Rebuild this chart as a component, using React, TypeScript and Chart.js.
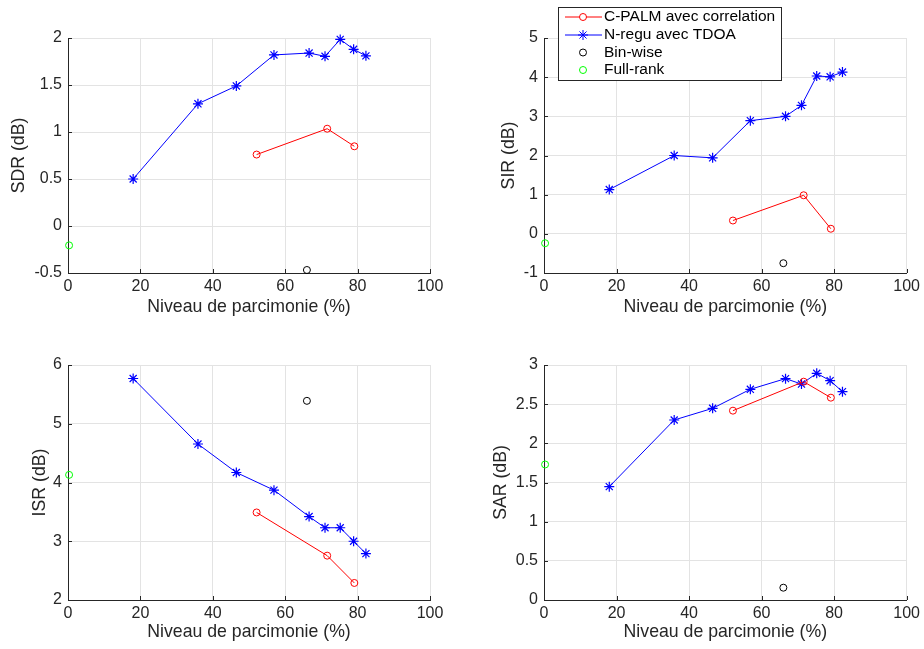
import React, { useEffect, useRef } from 'react';
import { Chart, registerables } from 'chart.js';

Chart.register(...registerables);
Chart.defaults.font.family = '"Liberation Sans", Arial, Helvetica, sans-serif';
Chart.defaults.color = '#262626';

// ---- data ----
const xTickStep = 20;
const cpalmX = [52.1, 71.6, 79.1];
const nreguX = [18.0, 35.9, 46.5, 56.9, 66.6, 71.0, 75.2, 78.9, 82.3];
const binX = [66.0];
const fullX = [0.3];

const sdrCpalm = [0.76, 1.035, 0.848];
const sdrNregu = [0.5, 1.3, 1.49, 1.82, 1.84, 1.805, 1.985, 1.88, 1.81];
const sdrBin = [-0.468];
const sdrFull = [-0.206];

const sirCpalm = [0.34, 0.985, 0.13];
const sirNregu = [1.13, 2.0, 1.94, 2.89, 3.0, 3.28, 4.03, 4.01, 4.13];
const sirBin = [-0.75];
const sirFull = [-0.24];

const isrCpalm = [3.49, 2.755, 2.29];
const isrNregu = [5.77, 4.655, 4.17, 3.87, 3.42, 3.23, 3.23, 3.0, 2.79];
const isrBin = [5.39];
const isrFull = [4.13];

const sarCpalm = [2.417, 2.787, 2.583];
const sarNregu = [1.447, 2.298, 2.447, 2.69, 2.826, 2.757, 2.894, 2.8, 2.66];
const sarBin = [0.157];
const sarFull = [1.73];

const legendLabels = ['C-PALM avec correlation', 'N-regu avec TDOA', 'Bin-wise', 'Full-rank'];
const xTitle = 'Niveau de parcimonie (%)';

const RED = '#ff0000';
const BLUE = '#0000ff';
const BLACK = '#000000';
const GREEN = '#00ff00';
const AXIS = '#262626';
const GRID = '#e3e3e3';
const TICK_SIZE = 16;
const TITLE_SIZE = 17.7;

type PanelCfg = {
  label: string;
  yMin: number; yMax: number; yStep: number;
  cpalm: number[]; nregu: number[]; bin: number[]; full: number[];
  left: number; top: number; w: number; h: number;
  pad: { left: number; top: number; right: number; bottom: number };
  yWidth: number; xHeight: number; yTitlePad: number; xTitlePad: number;
  legend: boolean;
};

const panels: PanelCfg[] = [
  {
    label: 'SDR (dB)', yMin: -0.5, yMax: 2, yStep: 0.5,
    cpalm: sdrCpalm, nregu: sdrNregu, bin: sdrBin, full: sdrFull,
    left: 0, top: 0, w: 462, h: 324,
    pad: { left: 0, top: 38, right: 32, bottom: 0 },
    yWidth: 68, xHeight: 51, yTitlePad: 8.5, xTitlePad: 6.5, legend: false,
  },
  {
    label: 'SIR (dB)', yMin: -1, yMax: 5, yStep: 1,
    cpalm: sirCpalm, nregu: sirNregu, bin: sirBin, full: sirFull,
    left: 462, top: 0, w: 462, h: 324,
    pad: { left: 0, top: 38, right: 17, bottom: 0 },
    yWidth: 82, xHeight: 51, yTitlePad: 36.5, xTitlePad: 6.5, legend: true,
  },
  {
    label: 'ISR (dB)', yMin: 2, yMax: 6, yStep: 1,
    cpalm: isrCpalm, nregu: isrNregu, bin: isrBin, full: isrFull,
    left: 0, top: 324, w: 462, h: 325,
    pad: { left: 0, top: 41, right: 32, bottom: 0 },
    yWidth: 68, xHeight: 49, yTitlePad: 29.5, xTitlePad: 6, legend: false,
  },
  {
    label: 'SAR (dB)', yMin: 0, yMax: 3, yStep: 0.5,
    cpalm: sarCpalm, nregu: sarNregu, bin: sarBin, full: sarFull,
    left: 462, top: 324, w: 462, h: 325,
    pad: { left: 0, top: 41, right: 17, bottom: 0 },
    yWidth: 82, xHeight: 49, yTitlePad: 28.5, xTitlePad: 6, legend: false,
  },
];

const fmtTick = (v: any) => String(Number(Number(v).toFixed(3)));

const inwardTicks = {
  id: 'inwardTicks',
  beforeDatasetsDraw(chart: any) {
    const { ctx, chartArea: a, scales } = chart;
    const x = scales.x, y = scales.y;
    ctx.save();
    ctx.strokeStyle = AXIS;
    ctx.lineWidth = 1;
    ctx.beginPath();
    x.ticks.forEach((t: any) => {
      const px = Math.round(x.getPixelForValue(t.value)) + 0.5;
      ctx.moveTo(px, a.bottom);
      ctx.lineTo(px, a.bottom - 4);
    });
    y.ticks.forEach((t: any) => {
      const py = Math.round(y.getPixelForValue(t.value)) + 0.5;
      ctx.moveTo(a.left, py);
      ctx.lineTo(a.left + 4, py);
    });
    ctx.stroke();
    ctx.restore();
  },
};

function drawStar(ctx: CanvasRenderingContext2D, cx: number, cy: number, r: number) {
  ctx.beginPath();
  for (let k = 0; k < 4; k++) {
    const ang = (k * Math.PI) / 4;
    ctx.moveTo(cx - r * Math.cos(ang), cy - r * Math.sin(ang));
    ctx.lineTo(cx + r * Math.cos(ang), cy + r * Math.sin(ang));
  }
  ctx.stroke();
}

const legendPlugin = {
  id: 'mlLegend',
  afterDraw(chart: any) {
    const ctx: CanvasRenderingContext2D = chart.ctx;
    const bx = 96.5, by = 7.5, bw = 223, bh = 73;
    ctx.save();
    ctx.fillStyle = '#ffffff';
    ctx.fillRect(bx, by, bw, bh);
    ctx.strokeStyle = AXIS;
    ctx.lineWidth = 1;
    ctx.strokeRect(bx, by, bw, bh);
    const rows = [17, 35, 52.5, 70];
    const colors = [RED, BLUE, BLACK, GREEN];
    const lineX0 = 103, lineX1 = 140, mx = 121, tx = 142;
    rows.forEach((ry, i) => {
      ctx.strokeStyle = colors[i];
      ctx.lineWidth = 1;
      if (i < 2) {
        ctx.beginPath();
        ctx.moveTo(lineX0, ry);
        ctx.lineTo(lineX1, ry);
        ctx.stroke();
      }
      if (i === 1) {
        drawStar(ctx, mx, ry, 5);
      } else {
        ctx.fillStyle = '#ffffff';
        ctx.beginPath();
        ctx.arc(mx, ry, 3.5, 0, Math.PI * 2);
        if (i === 0) ctx.fill();
        ctx.stroke();
      }
      ctx.fillStyle = '#000000';
      ctx.font = '15.5px "Liberation Sans", Arial, sans-serif';
      ctx.textBaseline = 'middle';
      ctx.textAlign = 'left';
      ctx.fillText(legendLabels[i], tx, ry);
    });
    ctx.restore();
  },
};

const pts = (xs: number[], ys: number[]) => xs.map((x, i) => ({ x, y: ys[i] }));

function Panel({ p }: { p: PanelCfg }) {
  const ref = useRef<HTMLCanvasElement>(null);
  useEffect(() => {
    const canvas = ref.current;
    if (!canvas) return;
    const circleDs = (label: string, data: any[], color: string, line: boolean) => ({
      label, data, showLine: line,
      borderColor: color, backgroundColor: 'rgba(0,0,0,0)', borderWidth: 1,
      pointStyle: 'circle', pointRadius: 3.5, pointBorderWidth: 1,
      pointBorderColor: color, pointBackgroundColor: 'rgba(0,0,0,0)',
      clip: false, tension: 0,
    });
    const chart = new Chart(canvas, {
      type: 'line',
      data: {
        datasets: [
          circleDs(legendLabels[0], pts(cpalmX, p.cpalm), RED, true),
          {
            label: legendLabels[1], data: pts(nreguX, p.nregu), showLine: true,
            borderColor: BLUE, backgroundColor: 'rgba(0,0,0,0)', borderWidth: 1,
            pointStyle: 'star', pointRadius: 5, pointBorderWidth: 1.2,
            pointBorderColor: BLUE, pointBackgroundColor: BLUE,
            clip: false, tension: 0,
          },
          circleDs(legendLabels[2], pts(binX, p.bin), BLACK, false),
          circleDs(legendLabels[3], pts(fullX, p.full), GREEN, false),
        ] as any,
      },
      options: {
        responsive: false,
        animation: false,
        devicePixelRatio: 1,
        layout: { padding: p.pad },
        plugins: { legend: { display: false }, tooltip: { enabled: false } },
        scales: {
          x: {
            type: 'linear', position: 'bottom', min: 0, max: 100,
            grid: { color: GRID, drawTicks: false, lineWidth: 1 },
            border: { display: true, color: AXIS, width: 1 },
            ticks: { stepSize: xTickStep, padding: 4, font: { size: TICK_SIZE }, color: AXIS, autoSkip: false, maxRotation: 0, callback: fmtTick },
            title: { display: true, text: xTitle, font: { size: TITLE_SIZE }, color: AXIS, padding: { top: 0, bottom: p.xTitlePad } },
            afterFit: (s: any) => { s.height = p.xHeight; },
          },
          y: {
            type: 'linear', position: 'left', min: p.yMin, max: p.yMax,
            grid: { color: GRID, drawTicks: false, lineWidth: 1 },
            border: { display: true, color: AXIS, width: 1 },
            ticks: { stepSize: p.yStep, padding: 6, font: { size: TICK_SIZE }, color: AXIS, autoSkip: false, callback: fmtTick },
            title: { display: true, text: p.label, font: { size: TITLE_SIZE }, color: AXIS, padding: { top: p.yTitlePad, bottom: 0 } },
            afterFit: (s: any) => { s.width = p.yWidth; },
          },
        },
      } as any,
      plugins: p.legend ? [inwardTicks, legendPlugin] : [inwardTicks],
    });
    return () => chart.destroy();
  }, [p]);
  return (
    <canvas
      ref={ref}
      width={p.w}
      height={p.h}
      style={{ position: 'absolute', left: p.left, top: p.top, width: p.w, height: p.h }}
    />
  );
}

export default function App() {
  return (
    <div style={{ position: 'absolute', left: 0, top: 0, width: 924, height: 649, background: '#ffffff', overflow: 'hidden' }}>
      {panels.map((p, i) => (
        <Panel key={i} p={p} />
      ))}
    </div>
  );
}
